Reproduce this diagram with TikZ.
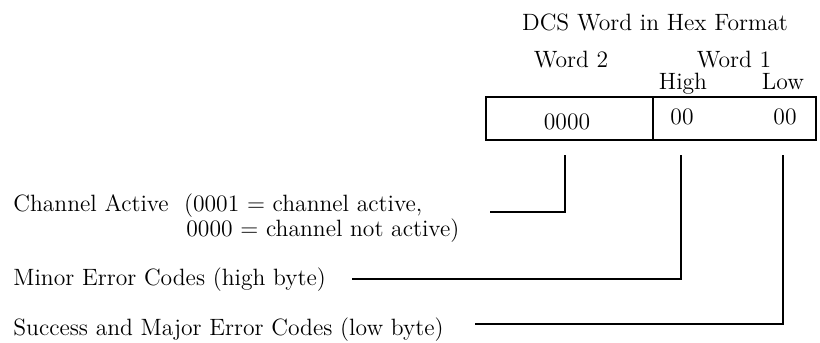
\documentclass[tikz,border=0pt]{standalone}
\begin{document}
\begin{tikzpicture}[x=0.5pt, y=-0.5pt, font=\fontsize{11.8}{13}\selectfont,
    every node/.style={inner sep=0pt}]
    \useasboundingbox (0, 0) rectangle (820, 343);

    % Heading
    \node (title) [anchor=base] at (655, 30) {DCS Word in Hex Format};
    \node (wordtwo) [anchor=base] at (571, 67) {Word 2};
    \node (wordone) [anchor=base] at (734, 67) {Word 1};
    \node (high) [anchor=base] at (683, 89) {High};
    \node (low) [anchor=base] at (783, 89) {Low};

    % Word fields
    \node (fieldtwo) [draw, line width=1.1pt, minimum width=83.5pt, minimum height=21.5pt]
          at (569.5, 118.5) {};
    \node (fieldone) [draw, line width=1.1pt, minimum width=81.5pt, minimum height=21.5pt]
          at (734.5, 118.5) {};
    \node (valtwo) [anchor=base] at (567, 129) {0000};
    \node (valhigh) [anchor=base] at (682, 124) {00};
    \node (vallow) [anchor=base] at (785, 124) {00};

    % Descriptions
    \node (chan) [anchor=base west] at (13, 211) {Channel Active\ \ (0001 = channel active,};
    \node (chantwo) [anchor=base west] at (186, 236) {0000 = channel not active)};
    \node (minor) [anchor=base west] at (13, 285) {Minor Error Codes (high byte)};
    \node (major) [anchor=base west] at (13, 335) {Success and Major Error Codes (low byte)};

    % Line ends
    \coordinate (chantop) at (565, 155);
    \coordinate (minortop) at (681, 155);
    \coordinate (majortop) at (783, 155);
    \coordinate (chanend) at (490, 212);
    \coordinate (minorend) at (352, 279);
    \coordinate (majorend) at (475, 324);

    % Leader lines
    \draw [line width=1pt] (chantop) |- (chanend);
    \draw [line width=1pt] (minortop) |- (minorend);
    \draw [line width=1pt] (majortop) |- (majorend);
\end{tikzpicture}
\end{document}
